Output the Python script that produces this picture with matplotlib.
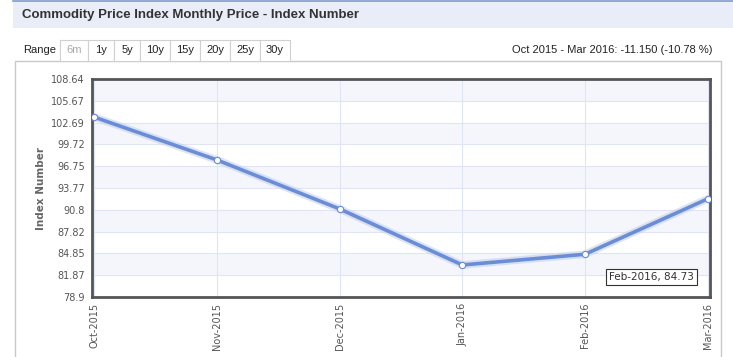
import matplotlib.pyplot as plt
from matplotlib.patches import Rectangle

# data
months = ['Oct-2015', 'Nov-2015', 'Dec-2015', 'Jan-2016', 'Feb-2016', 'Mar-2016']
values = [103.43, 97.59, 90.91, 83.27, 84.73, 92.28]
yticks = [78.9, 81.87, 84.85, 87.82, 90.8, 93.77, 96.75, 99.72, 102.69, 105.67, 108.64]
ranges = ['6m', '1y', '5y', '10y', '15y', '20y', '25y', '30y']

W, H = 733, 357
fig = plt.figure(figsize=(W / 100, H / 100), dpi=100)
fig.patch.set_facecolor('white')

def px(x, y):
    return x / W, 1 - y / H

# header band
fig.patches.append(Rectangle(px(13, 28), (W - 13) / W, 27 / H, transform=fig.transFigure,
                             facecolor='#e9edf8', edgecolor='none'))
fig.lines.append(plt.Line2D([13 / W, 1], [1 - 1 / H, 1 - 1 / H], transform=fig.transFigure,
                            color='#7f9ccd', lw=1.2))
fig.text(*px(22, 15), 'Commodity Price Index Monthly Price - Index Number',
         fontsize=9.5, fontweight='bold', color='#333333', family='Liberation Sans', va='center')

# outer panel
fig.patches.append(Rectangle(px(15, H + 2), (721 - 15) / W, (H + 2 - 61) / H, transform=fig.transFigure,
                             facecolor='none', edgecolor='#c8c8c8', lw=1))

# range buttons
fig.text(*px(23, 50), 'Range', fontsize=8, color='#222222', family='Liberation Sans', va='center')
bx = 60
widths = [28, 26, 26, 30, 30, 30, 30, 30]
for lab, w in zip(ranges, widths):
    fig.patches.append(Rectangle(px(bx, 61), w / W, 21 / H, transform=fig.transFigure,
                                 facecolor='white', edgecolor='#d0d0d0', lw=0.8))
    fig.text(*px(bx + w / 2, 50), lab, fontsize=8, ha='center', va='center', family='Liberation Sans',
             color='#aaaaaa' if lab == '6m' else '#222222')
    bx += w

fig.text(*px(712, 50), 'Oct 2015 - Mar 2016: -11.150 (-10.78 %)', fontsize=8, ha='right',
         va='center', color='#222222', family='Liberation Sans')

# main axes
l, t = px(92, 79)
r, b = px(710, 297)
ax = fig.add_axes([l, b, r - l, t - b])
x = list(range(len(months)))

for i in range(len(yticks) - 1):
    if i % 2 == 1:
        ax.axhspan(yticks[i], yticks[i + 1], color='#f4f6fc', lw=0, zorder=0)
for yv in yticks:
    ax.axhline(yv, color='#dfe5f3', lw=0.8, zorder=1)
for xv in x:
    ax.axvline(xv, color='#dfe5f3', lw=0.8, zorder=1)

ax.plot(x, values, color='#c5d2ee', lw=5.5, alpha=0.6, zorder=2, solid_capstyle='round')
ax.plot(x, values, color='#6a8dd6', lw=2.6, zorder=3, marker='o', ms=4.5,
        markerfacecolor='white', markeredgecolor='#6a8dd6', markeredgewidth=0.8)

ax.set_xlim(-0.02, 5.02)
ax.set_ylim(yticks[0], yticks[-1])
ax.set_yticks(yticks)
ax.set_yticklabels([('%g' % v) for v in yticks])
ax.set_xticks(x)
ax.set_xticklabels(months, rotation=90)
ax.tick_params(length=0, labelsize=7, labelcolor='#555555', pad=5)
ax.tick_params(axis='x', pad=4)
for s in ax.spines.values():
    s.set_color('#555555')
    s.set_linewidth(2)
ax.set_ylabel('Index Number', fontsize=7.5, fontweight='bold', color='#666666', labelpad=4)

# tooltip
ax.annotate('Feb-2016, 84.73', xy=(4, values[4]), xytext=(609 / W, 1 - 277 / H),
            textcoords='figure fraction', fontsize=7.5, color='#333333', va='center', ha='left',
            bbox=dict(boxstyle='square,pad=0.3', fc='white', ec='#333333', lw=0.8), zorder=5)

fig.savefig('out.png', dpi=100)
